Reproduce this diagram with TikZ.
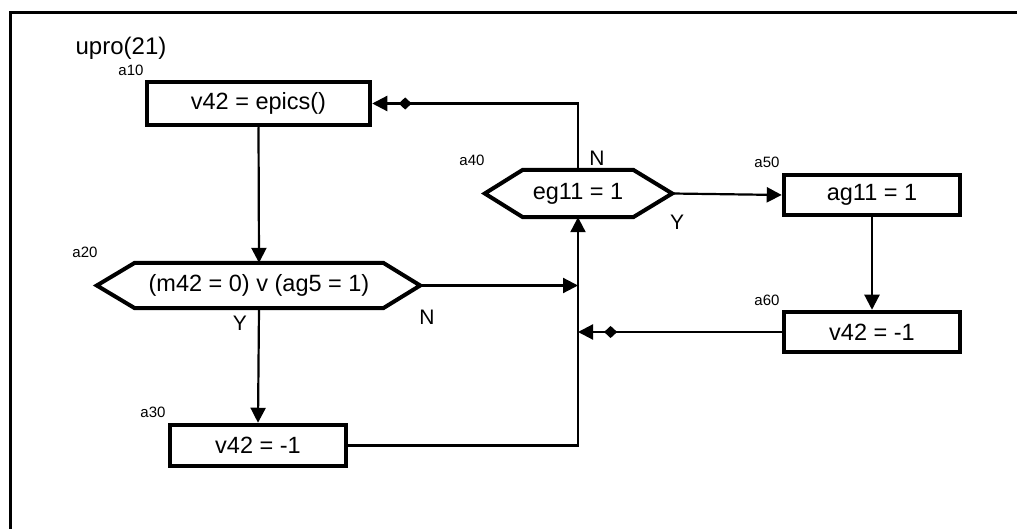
\documentclass[tikz,border=0pt]{standalone}
\usepackage{fontspec}
\setmainfont{Liberation Sans}
\usetikzlibrary{arrows.meta,calc,shapes.geometric}
\begin{document}
\begin{tikzpicture}[x=1pt,y=-1pt,
  box/.style={draw, line width=4.5pt, minimum width=176pt, minimum height=40pt, inner sep=0pt, font=\fontsize{23.5}{28}\selectfont},
  hexin/.style={draw=none, minimum height=45pt, inner sep=0pt, font=\fontsize{23.5}{28}\selectfont},
  hexline/.style={line width=4pt, line join=miter},
  conn/.style={line width=2.2pt, -{Triangle[length=15pt,width=15pt]}},
  dmark/.style={diamond, fill=black, inner sep=0pt, minimum width=14pt, minimum height=13pt},
  lab/.style={font=\fontsize{15}{17}\selectfont, inner sep=0pt},
  yn/.style={font=\fontsize{21}{24}\selectfont, inner sep=0pt},
]
\useasboundingbox (0,0) rectangle (1017,529);
\fill[white] (0,0) rectangle (1017,529);
% frame
\draw[line width=3pt] (1017,13) -- (10,13) -- (10,529);

\node[font=\fontsize{24}{28}\selectfont, inner sep=0pt] (title) at (121,48) {upro(21)};

% boxes
\node[box, minimum width=223pt, minimum height=43pt] (a10) at (258.5,103.5) {v42 = epics()};
\node[box, minimum height=41pt] (a30) at (258,445.5) {v42 = -1};
\node[box] (a50) at (872,195) {ag11 = 1};
\node[box] (a60) at (872,332) {v42 = -1};

% hexagon a20
\node[hexin, minimum width=248pt] (a20) at (259,285.5) {(m42 = 0) v (ag5 = 1)};
\draw[hexline] (a20.north west) -- (a20.north east) -- ($(a20.east)+(37,0)$) coordinate (a20r)
  -- (a20.south east) -- (a20.south west) -- ($(a20.west)+(-38,0)$) coordinate (a20l) -- cycle;
% hexagon a40
\node[hexin, minimum width=110pt, minimum height=47pt] (a40) at (578,193.5) {eg11 = 1};
\draw[hexline] (a40.north west) -- (a40.north east) -- ($(a40.east)+(39,0)$) coordinate (a40r)
  -- (a40.south east) -- (a40.south west) -- ($(a40.west)+(-38,0)$) coordinate (a40l) -- cycle;

% labels
\node[lab] (la10) at (131,70) {a10};
\node[lab] (la20) at (85,252) {a20};
\node[lab] (la30) at (153,412) {a30};
\node[lab] (la40) at (472,160) {a40};
\node[lab] (la50) at (767,162) {a50};
\node[lab] (la60) at (767,300) {a60};
\node[yn] (n40) at (597,158) {N};
\node[yn] (y40) at (677,222) {Y};
\node[yn] (y20) at (240,323) {Y};
\node[yn] (n20) at (427,317) {N};

% connectors
\coordinate (jn) at (a20r -| a40.south);
\coordinate (j60) at (a60.west -| a40.south);
\draw[conn] (a10.south) -- (a20.north);
\draw[conn] (a20.south) -- (a30.north);
\draw[conn] (a30.east) -| (a40.south);
\draw[conn] (a20r) -- (jn);
\draw[conn] (a40r) -- (a50.west);
\draw[conn] (a50.south) -- (a60.north);
\draw[conn] (a60.west) -- node[dmark, pos=0.84] {} (j60);
\draw[conn] (a40.north) |- node[dmark, pos=0.92] {} (a10.east);
\end{tikzpicture}
\end{document}
